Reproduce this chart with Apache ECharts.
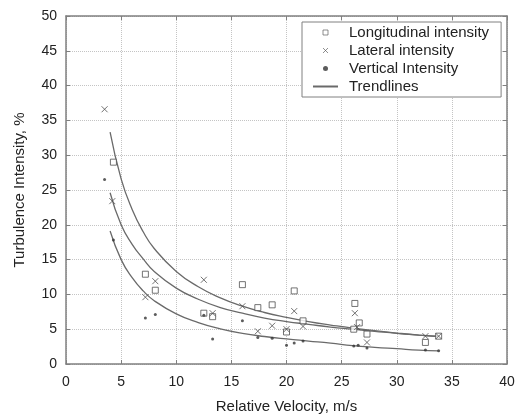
<!DOCTYPE html>
<html>
<head>
<meta charset="utf-8">
<script src="https://cdn.jsdelivr.net/npm/echarts@6/dist/echarts.min.js"></script>
<style>
  html, body { margin: 0; padding: 0; background: #fff; }
  #turb { width: 515px; height: 414px; }
</style>
</head>
<body>
<div id="turb"></div>
<script>
// Turbulence intensity vs relative velocity
const longVel = [4.3, 7.2, 8.1, 12.5, 13.3, 16.0, 17.4, 18.7, 20.0, 20.7, 21.5, 26.1, 26.2, 26.6, 27.3, 32.6, 33.8];
const longInt = [29.0, 12.9, 10.6, 7.3, 6.8, 11.4, 8.1, 8.5, 4.6, 10.5, 6.2, 5.0, 8.7, 5.9, 4.3, 3.1, 4.0];

const latVel = [3.5, 4.2, 7.2, 8.1, 12.5, 13.3, 16.0, 17.4, 18.7, 20.0, 20.7, 21.5, 26.2, 26.4, 27.3, 32.6, 33.8];
const latInt = [36.6, 23.4, 9.6, 11.9, 12.1, 7.3, 8.3, 4.7, 5.5, 5.0, 7.6, 5.4, 7.3, 5.3, 3.1, 4.0, 4.0];

const vertVel = [3.5, 4.3, 7.2, 8.1, 12.5, 13.3, 16.0, 17.4, 18.7, 20.0, 20.7, 21.5, 26.1, 26.5, 27.3, 32.6, 33.8];
const vertInt = [26.5, 17.8, 6.6, 7.1, 7.0, 3.6, 6.2, 3.8, 3.7, 2.7, 3.0, 3.3, 2.6, 2.7, 2.3, 2.0, 1.9];

// trendlines
const trendVel = [4, 5, 6, 7, 8, 10, 12, 14, 16, 18, 20, 22, 24, 26, 28, 30, 32, 33.8];
const trendLong = [33.3, 26.6, 22.2, 19.0, 16.6, 13.3, 11.1, 9.5, 8.3, 7.4, 6.7, 6.1, 5.6, 5.15, 4.8, 4.45, 4.15, 3.95];
const trendLat = [24.6, 20.0, 17.2, 15.1, 13.3, 10.9, 9.3, 8.1, 7.3, 6.6, 6.1, 5.7, 5.3, 5.0, 4.7, 4.4, 4.15, 3.95];
const trendVert = [19.1, 15.0, 12.4, 10.5, 9.1, 7.2, 5.95, 5.05, 4.4, 3.95, 3.6, 3.3, 3.0, 2.65, 2.4, 2.2, 2.0, 1.9];

const pairs = (xs, ys) => xs.map((x, i) => [x, ys[i]]);

const font = 'Liberation Sans, Arial, sans-serif';
const axisGray = '#808080';
const markGray = '#505050';
const squarePath = 'path://M0,0L10,0L10,10L0,10Z';
const crossPath = 'path://M0,0L10,10M10,0L0,10';

const boxAxis = (pos, extra) => Object.assign({
  type: 'value',
  position: pos,
  axisLine: { show: true, onZero: false, lineStyle: { color: axisGray, width: 1.5 } },
  axisTick: { show: true, inside: true, length: 4, lineStyle: { color: axisGray } },
  axisLabel: { show: false },
  splitLine: { show: false }
}, extra);

const trendSeries = (vals) => ({
  name: 'Trendlines',
  type: 'line',
  data: pairs(trendVel, vals),
  smooth: true,
  symbol: 'none',
  z: 1,
  lineStyle: { color: '#6a6a6a', width: 1.3 },
  itemStyle: { color: '#6a6a6a' }
});

const option = {
  animation: false,
  backgroundColor: '#fff',
  grid: { left: 66, right: 8, top: 16, bottom: 50, containLabel: false, outerBoundsMode: 'none' },
  legend: {
    orient: 'vertical',
    left: 302,
    top: 22,
    padding: [3, 12, 3, 10],
    backgroundColor: '#fff',
    borderColor: axisGray,
    borderWidth: 1,
    itemWidth: 25,
    itemHeight: 5,
    itemGap: 3,
    symbolKeepAspect: true,
    textStyle: { fontFamily: font, fontSize: 15, color: '#222', padding: [0, 0, 0, 6] },
    data: [
      { name: 'Longitudinal intensity', icon: squarePath, itemStyle: { borderWidth: 0.8 } },
      { name: 'Lateral intensity', icon: crossPath, itemStyle: { borderWidth: 0.8 } },
      { name: 'Vertical Intensity', icon: 'circle' },
      { name: 'Trendlines', itemStyle: { color: 'transparent', borderWidth: 0, opacity: 0 } }
    ]
  },
  xAxis: [
    boxAxis('bottom', {
      min: 0, max: 40, interval: 5,
      name: 'Relative Velocity, m/s',
      nameLocation: 'middle',
      nameGap: 35,
      nameTextStyle: { fontFamily: font, fontSize: 15, color: '#222' },
      axisLabel: { show: true, margin: 11, fontFamily: font, fontSize: 14, color: '#222' },
      splitLine: { show: true, lineStyle: { type: 'dotted', color: '#c4c4c4' } }
    }),
    boxAxis('top', { min: 0, max: 40, interval: 5 })
  ],
  yAxis: [
    boxAxis('left', {
      min: 0, max: 50, interval: 5,
      name: 'Turbulence Intensity, %',
      nameLocation: 'middle',
      nameGap: 39,
      nameTextStyle: { fontFamily: font, fontSize: 15, color: '#222' },
      axisLabel: { show: true, margin: 9, fontFamily: font, fontSize: 14, color: '#222' },
      splitLine: { show: true, lineStyle: { type: 'dotted', color: '#c4c4c4' } }
    }),
    boxAxis('right', { min: 0, max: 50, interval: 5 })
  ],
  series: [
    {
      name: 'Longitudinal intensity',
      type: 'scatter',
      data: pairs(longVel, longInt),
      symbol: squarePath,
      symbolSize: 6,
      z: 3,
      itemStyle: { color: '#fff', borderColor: markGray, borderWidth: 1 }
    },
    {
      name: 'Lateral intensity',
      type: 'scatter',
      data: pairs(latVel, latInt),
      symbol: crossPath,
      symbolSize: 6,
      z: 3,
      itemStyle: { color: 'transparent', borderColor: markGray, borderWidth: 1 }
    },
    {
      name: 'Vertical Intensity',
      type: 'scatter',
      data: pairs(vertVel, vertInt),
      symbol: 'circle',
      symbolSize: 3,
      z: 3,
      itemStyle: { color: '#333' }
    },
    trendSeries(trendLong),
    trendSeries(trendLat),
    trendSeries(trendVert)
  ]
};

const chart = echarts.init(document.getElementById('turb'));
chart.setOption(option);
window.addEventListener('resize', () => chart.resize());
</script>
</body>
</html>
